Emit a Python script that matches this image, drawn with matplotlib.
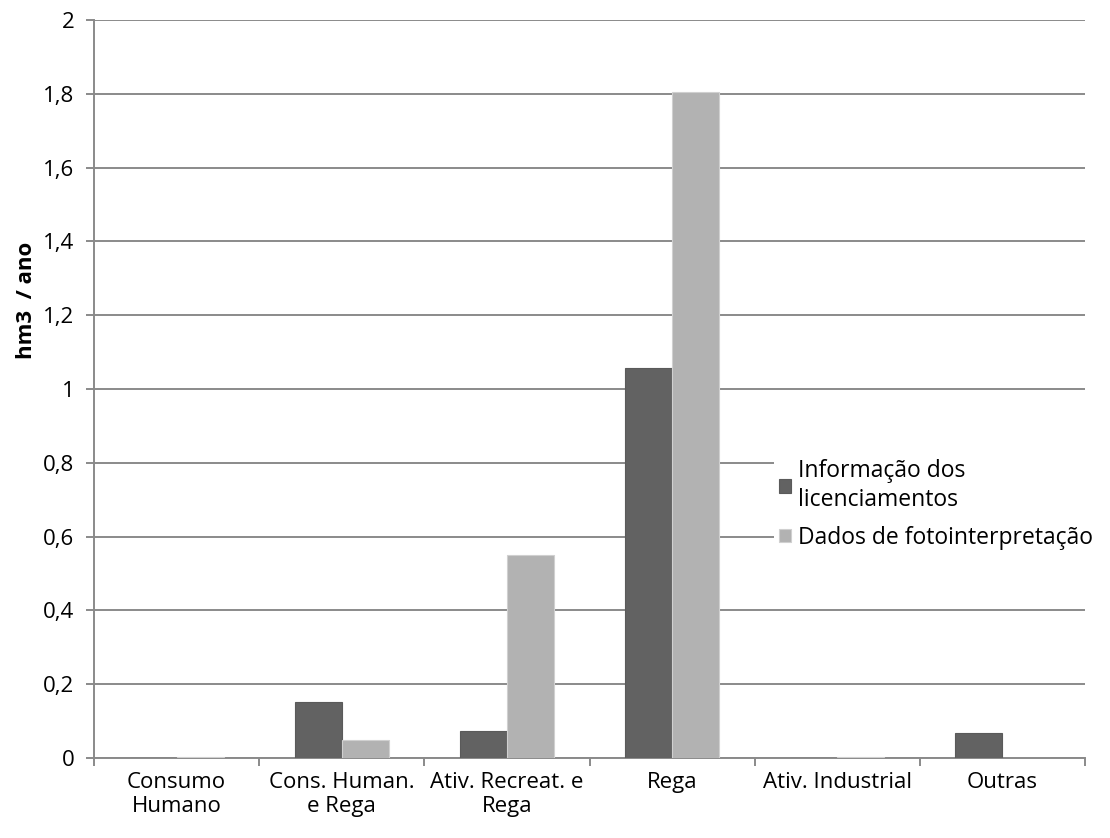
import numpy as np
import matplotlib.pyplot as plt
from matplotlib.ticker import FuncFormatter

categorias = ['Consumo\nHumano', 'Cons. Human.\ne Rega', 'Ativ. Recreat. e\nRega',
              'Rega', 'Ativ. Industrial', 'Outras']
licenciamentos = [0.0, 0.151, 0.073, 1.058, 0.0, 0.067]
fotointerpretacao = [0.003, 0.048, 0.55, 1.804, 0.002, 0.0]
serie_nomes = ['Informação dos\nlicenciamentos', 'Dados de fotointerpretação']
yticks = [0, 0.2, 0.4, 0.6, 0.8, 1.0, 1.2, 1.4, 1.6, 1.8, 2.0]

plt.rcParams['font.family'] = ['Open Sans', 'DejaVu Sans']
fs = 16

fig = plt.figure(figsize=(11.1, 8.38), dpi=100)
ax = fig.add_axes([0.0847, 0.0955, 0.8928, 0.8805])

x = np.arange(len(categorias))
w = 0.285
ax.bar(x - w/2, licenciamentos, w, color='#626262', edgecolor='#5a5a5a', linewidth=0.8,
       label=serie_nomes[0], zorder=3)
ax.bar(x + w/2, fotointerpretacao, w, color='#b2b2b2', edgecolor='#d0d0d0', linewidth=0.8,
       label=serie_nomes[1], zorder=3)

ax.set_xlim(-0.5, len(categorias) - 0.5)
ax.set_ylim(0, 2)
ax.set_yticks(yticks)
ax.yaxis.set_major_formatter(FuncFormatter(lambda v, p: ('%g' % v).replace('.', ',')))
ax.grid(axis='y', color='#8a8a8a', linewidth=1.4, zorder=0)

ax.set_xticks(x)
ax.set_xticklabels(categorias, fontsize=fs, linespacing=1.2)
ax.set_xticks(np.arange(-0.5, len(categorias)), minor=True)
ax.tick_params(axis='x', which='major', length=0, pad=10)
ax.tick_params(axis='x', which='minor', length=6, color='#8a8a8a', width=1.4)
ax.tick_params(axis='y', length=6, color='#8a8a8a', width=1.4, labelsize=fs, pad=8)

for s in ['top', 'right']:
    ax.spines[s].set_visible(False)
for s in ['left', 'bottom']:
    ax.spines[s].set_color('#8a8a8a')
    ax.spines[s].set_linewidth(1.4)

fig.text(0.024, 0.642, 'hm3  / ano', rotation=90, fontsize=fs, fontweight='bold',
         ha='center', va='center')

leg = ax.legend(loc='upper left', bbox_to_anchor=(0.687, 0.372, 0.3, 0.1),
                bbox_transform=fig.transFigure, fontsize=16.5, frameon=True,
                facecolor='white', edgecolor='none', framealpha=1,
                handlelength=0.55, handleheight=0.55, handletextpad=0.3,
                labelspacing=0.6, borderpad=0.2, fancybox=False)
for t in leg.get_texts():
    t.set_linespacing(1.3)
leg.set_zorder(5)

fig.savefig('out.png', dpi=100)
